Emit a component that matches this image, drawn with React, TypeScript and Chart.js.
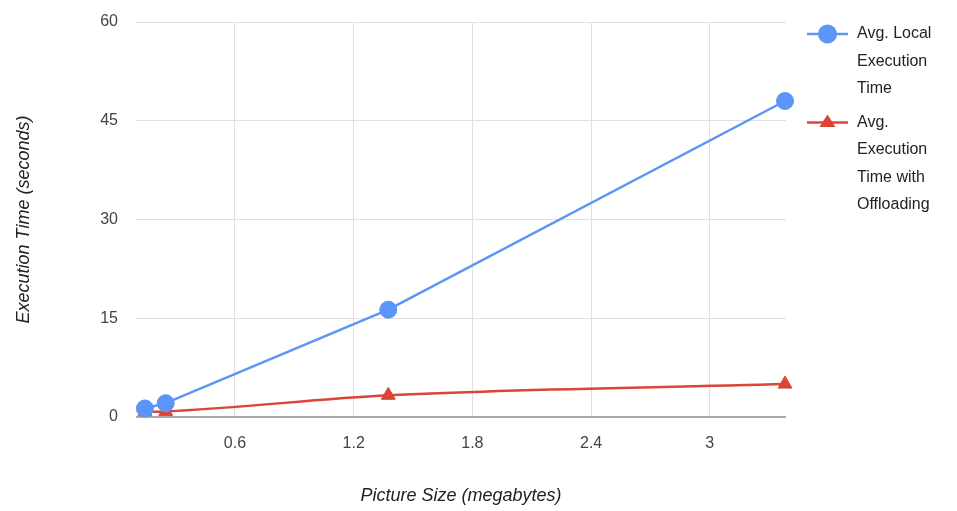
import React, { useEffect, useRef } from "react";
import { Chart, registerables } from "chart.js";

Chart.register(...registerables);

const pictureSizes = [0.145, 0.25, 1.375, 3.38];
const localTimes = [1.3, 2.1, 16.3, 48.0];
const offloadTimes = [0.8, 0.85, 3.3, 5.0];
const xTickValues = [0.6, 1.2, 1.8, 2.4, 3];
const yTickValues = [0, 15, 30, 45, 60];
const seriesNames = [
  ["Avg. Local", "Execution", "Time"],
  ["Avg.", "Execution", "Time with", "Offloading"],
];
const BLUE = "#5b95f7";
const RED = "#db4437";

const legendPlugin = {
  id: "wrapLegend",
  afterDraw(chart: any) {
    const ctx = chart.ctx;
    ctx.save();
    ctx.font = "16px Arial, 'Liberation Sans', sans-serif";
    ctx.textBaseline = "middle";
    ctx.textAlign = "left";
    const x0 = 807;
    const lineH = 27.5;
    let y = 34;
    chart.data.datasets.forEach((ds: any) => {
      const lines: string[] = ds.label.split("\n");
      ctx.strokeStyle = ds.borderColor;
      ctx.lineWidth = 2.5;
      ctx.beginPath();
      ctx.moveTo(x0, y);
      ctx.lineTo(x0 + 41, y);
      ctx.stroke();
      ctx.fillStyle = ds.borderColor;
      ctx.beginPath();
      if (ds.pointStyle === "triangle") {
        const r = 8;
        ctx.moveTo(x0 + 20.5, y - r);
        ctx.lineTo(x0 + 20.5 + r, y + r * 0.55);
        ctx.lineTo(x0 + 20.5 - r, y + r * 0.55);
        ctx.closePath();
      } else {
        ctx.arc(x0 + 20.5, y, 9.5, 0, Math.PI * 2);
      }
      ctx.fill();
      ctx.fillStyle = "#222";
      lines.forEach((t, k) => {
        ctx.fillText(t, x0 + 50, y + k * lineH);
      });
      y += lines.length * lineH + 6;
    });
    ctx.restore();
  },
};

export default function App() {
  const ref = useRef<HTMLCanvasElement | null>(null);
  useEffect(() => {
    document.body.style.margin = "0";
    const canvas = ref.current;
    if (!canvas) return;
    const font = "Arial, 'Liberation Sans', sans-serif";
    const chart = new Chart(canvas, {
      type: "line",
      data: {
        datasets: [
          {
            label: seriesNames[0].join("\n"),
            data: pictureSizes.map((x, i) => ({ x, y: localTimes[i] })),
            borderColor: BLUE,
            backgroundColor: BLUE,
            borderWidth: 2.5,
            pointStyle: "circle",
            pointRadius: 8.5,
            pointBorderWidth: 1,
            tension: 0,
            clip: false,
          },
          {
            label: seriesNames[1].join("\n"),
            data: pictureSizes.map((x, i) => ({ x, y: offloadTimes[i] })),
            borderColor: RED,
            backgroundColor: RED,
            borderWidth: 2.5,
            pointStyle: "triangle",
            pointRadius: 8,
            pointBorderWidth: 1,
            cubicInterpolationMode: "monotone",
            clip: false,
          },
        ],
      },
      options: {
        animation: false,
        responsive: false,
        maintainAspectRatio: false,
        layout: { padding: { top: 22, right: 171, left: 0, bottom: 0 } },
        plugins: { legend: { display: false }, tooltip: { enabled: false } },
        scales: {
          x: {
            type: "linear",
            min: 0.1,
            max: 3.385,
            afterBuildTicks: (s: any) => {
              s.ticks = xTickValues.map((v) => ({ value: v }));
            },
            afterFit: (s: any) => {
              s.height = 94;
              s.paddingLeft = 0;
              s.paddingRight = 0;
            },
            ticks: {
              callback: (v: any) => String(Number(v)),
              color: "#444",
              font: { family: font, size: 16 },
              padding: 17,
              maxRotation: 0,
            },
            grid: { color: "#e0e0e0", drawTicks: false, lineWidth: 1 },
            border: { display: false },
            title: {
              display: true,
              text: "Picture Size (megabytes)",
              color: "#222",
              font: { family: font, size: 18, style: "italic" },
              padding: { top: 0, bottom: 4 },
            },
          },
          y: {
            type: "linear",
            min: 0,
            max: 60,
            afterBuildTicks: (s: any) => {
              s.ticks = yTickValues.map((v) => ({ value: v }));
            },
            afterFit: (s: any) => {
              s.width = 136;
              s.paddingTop = 0;
              s.paddingBottom = 0;
            },
            ticks: {
              color: "#444",
              font: { family: font, size: 16 },
              padding: 18,
            },
            grid: {
              color: (c: any) => (c.tick && c.tick.value === 0 ? "#aaaaaa" : "#e0e0e0"),
              drawTicks: false,
              lineWidth: (c: any) => (c.tick && c.tick.value === 0 ? 2 : 1),
            },
            border: { display: false },
            title: {
              display: true,
              text: "Execution Time (seconds)",
              color: "#222",
              font: { family: font, size: 18, style: "italic" },
              padding: { top: 13, bottom: 0 },
            },
          },
        },
      },
      plugins: [legendPlugin],
    } as any);
    return () => chart.destroy();
  }, []);
  return (
    <div style={{ width: 957, height: 511, background: "#fff" }}>
      <canvas ref={ref} width={957} height={511} style={{ display: "block" }} />
    </div>
  );
}
